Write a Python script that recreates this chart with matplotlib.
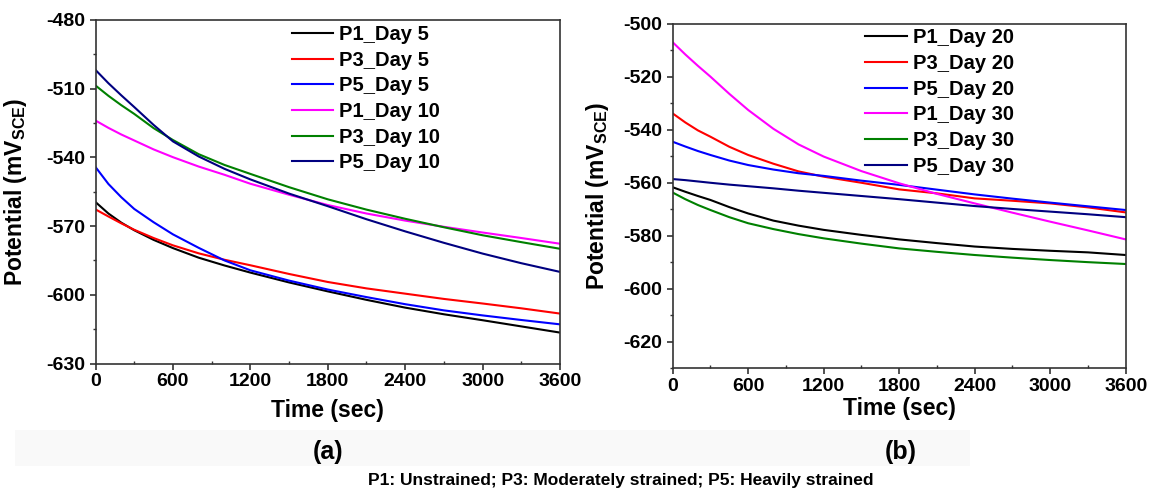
import matplotlib
matplotlib.use("Agg")
import matplotlib.pyplot as plt
from matplotlib.patches import Rectangle
from matplotlib.ticker import MultipleLocator

plt.rcParams['font.family'] = ['Liberation Sans', 'DejaVu Sans']
plt.rcParams['font.weight'] = 'bold'
plt.rcParams['axes.unicode_minus'] = False

time_s = [0, 100, 200, 300, 450, 600, 800, 1000, 1200, 1500, 1800, 2100, 2400, 2700, 3000, 3300, 3600]

# Panel (a)
p1_day5 = [-559.5, -564.5, -568.5, -571.8, -576.0, -579.6, -583.8, -587.2, -590.3, -594.6, -598.5, -602.2, -605.6, -608.5, -611.1, -613.8, -616.5]
p3_day5 = [-562.7, -565.8, -568.8, -571.6, -575.2, -578.4, -581.9, -584.7, -587.1, -590.9, -594.4, -597.2, -599.5, -601.8, -603.8, -605.9, -608.2]
p5_day5 = [-544.2, -551.6, -557.4, -562.5, -568.3, -573.6, -579.5, -585.0, -589.3, -593.8, -597.7, -601.0, -604.1, -606.8, -609.0, -611.0, -612.9]
p1_day10 = [-523.9, -527.1, -530.0, -532.6, -536.5, -539.9, -544.0, -547.6, -551.5, -556.3, -560.8, -564.5, -567.6, -570.3, -572.8, -575.2, -577.7]
p3_day10 = [-508.6, -513.1, -517.2, -521.0, -527.2, -532.4, -538.6, -543.3, -547.2, -553.0, -558.3, -562.8, -566.8, -570.5, -574.0, -577.0, -579.9]
p5_day10 = [-501.8, -507.6, -512.9, -518.0, -525.8, -533.0, -539.6, -545.0, -549.6, -555.8, -561.3, -567.0, -572.3, -577.3, -582.0, -586.2, -590.0]

# Panel (b)
p1_day20 = [-561.7, -563.4, -565.0, -566.5, -569.2, -571.6, -574.3, -576.2, -577.8, -579.7, -581.4, -582.8, -584.1, -585.0, -585.7, -586.3, -587.3]
p3_day20 = [-533.8, -537.2, -540.2, -542.6, -546.4, -549.5, -552.8, -555.7, -557.7, -560.0, -562.5, -564.0, -565.9, -566.8, -567.8, -569.3, -571.2]
p5_day20 = [-544.5, -546.3, -548.0, -549.5, -551.6, -553.3, -555.0, -556.4, -557.4, -559.2, -560.8, -562.6, -564.4, -566.0, -567.5, -568.9, -570.3]
p1_day30 = [-506.9, -511.5, -515.8, -519.9, -526.4, -532.5, -539.6, -545.5, -550.1, -555.6, -560.2, -564.2, -567.8, -571.3, -574.7, -578.0, -581.4]
p3_day30 = [-563.7, -566.2, -568.4, -570.3, -573.0, -575.3, -577.5, -579.4, -581.0, -583.0, -584.8, -586.1, -587.3, -588.3, -589.2, -590.0, -590.7]
p5_day30 = [-558.6, -559.0, -559.5, -560.0, -560.7, -561.3, -562.1, -563.0, -563.8, -565.0, -566.2, -567.5, -568.8, -569.9, -570.9, -571.9, -573.0]

labels_a = ["P1_Day 5", "P3_Day 5", "P5_Day 5", "P1_Day 10", "P3_Day 10", "P5_Day 10"]
labels_b = ["P1_Day 20", "P3_Day 20", "P5_Day 20", "P1_Day 30", "P3_Day 30", "P5_Day 30"]
series_a = [p1_day5, p3_day5, p5_day5, p1_day10, p3_day10, p5_day10]
series_b = [p1_day20, p3_day20, p5_day20, p1_day30, p3_day30, p5_day30]
colors = ["#000000", "#ff0000", "#0000ff", "#ff00ff", "#008000", "#000080"]

W, H = 1156, 491
fig = plt.figure(figsize=(W / 100, H / 100), dpi=100)
fig.patch.set_facecolor("white")

# faint band behind panel letters
fig.patches.append(Rectangle((15 / W, 1 - 466 / H), 955 / W, 36 / H, transform=fig.transFigure,
                             facecolor="#f9f9f9", edgecolor="none", zorder=0))

ax_a = fig.add_axes([95.5 / W, 1 - 363.5 / H, (560 - 95.5) / W, (363.5 - 20) / H])
ax_b = fig.add_axes([672.7 / W, 1 - 368 / H, 453 / W, 344 / H])

def style(ax, ylim, ymajor, yminor, label_x, xlabel_y, legx, legy, series, labels):
    for s, c, l in zip(series, colors, labels):
        ax.plot(time_s, s, color=c, lw=1.5, label=l)
    ax.set_xlim(0, 3600)
    ax.set_ylim(*ylim)
    ax.xaxis.set_major_locator(MultipleLocator(600))
    ax.xaxis.set_minor_locator(MultipleLocator(300))
    ax.yaxis.set_major_locator(MultipleLocator(ymajor))
    ax.yaxis.set_minor_locator(MultipleLocator(yminor))
    for sp in ax.spines.values():
        sp.set_color("#333333")
        sp.set_linewidth(1.2)
    ax.tick_params(axis="x", which="major", direction="out", length=4, width=1.2, pad=3,
                   labelsize=14, colors="#333333", labelcolor="black")
    ax.tick_params(axis="x", which="minor", direction="in", length=2.5, width=1.0, colors="#333333")
    ax.tick_params(axis="y", which="major", direction="out", length=4.5, width=1.2, pad=3,
                   labelsize=14, colors="#333333", labelcolor="black")
    ax.tick_params(axis="y", which="minor", direction="out", length=2.5, width=1.0, colors="#333333")
    for t in ax.get_xticklabels() + ax.get_yticklabels():
        t.set_fontweight("bold")
    ax.set_xlabel("Time (sec)", fontsize=16.5, fontweight="bold")
    ax.set_ylabel(r"Potential (mV$_{\mathregular{SCE}}$)", fontsize=16.5, fontweight="bold")
    ax.yaxis.set_label_coords(label_x, 0.5)
    ax.xaxis.set_label_coords(0.5, xlabel_y)
    ax.xaxis.label.set_va("center")
    ax.yaxis.label.set_va("center")
    ax.legend(loc="upper left", bbox_to_anchor=(legx, legy), frameon=False,
              borderpad=0, borderaxespad=0, handlelength=2.07, handletextpad=0.3,
              labelspacing=0.33, prop={"size": 14.5, "weight": "bold"})

style(ax_a, (-630, -480), 30, 15, -0.173, -0.138, 0.422, 0.985, series_a, labels_a)
style(ax_b, (-630, -500), 20, 10, -0.167, -0.117, 0.4245, 0.987, series_b, labels_b)

narrow = ["Liberation Sans Narrow", "Liberation Sans", "DejaVu Sans"]
fig.text(328 / W, 1 - 452 / H, "(a)", ha="center", va="center", fontsize=18,
         fontweight="bold", family=narrow)
fig.text(901 / W, 1 - 452 / H, "(b)", ha="center", va="center", fontsize=18,
         fontweight="bold", family=narrow)
fig.text(621 / W, 1 - 480 / H, "P1: Unstrained; P3: Moderately strained; P5: Heavily strained",
         ha="center", va="center", fontsize=12.5, fontweight="bold", family=narrow)

fig.savefig("out.png", dpi=100)
